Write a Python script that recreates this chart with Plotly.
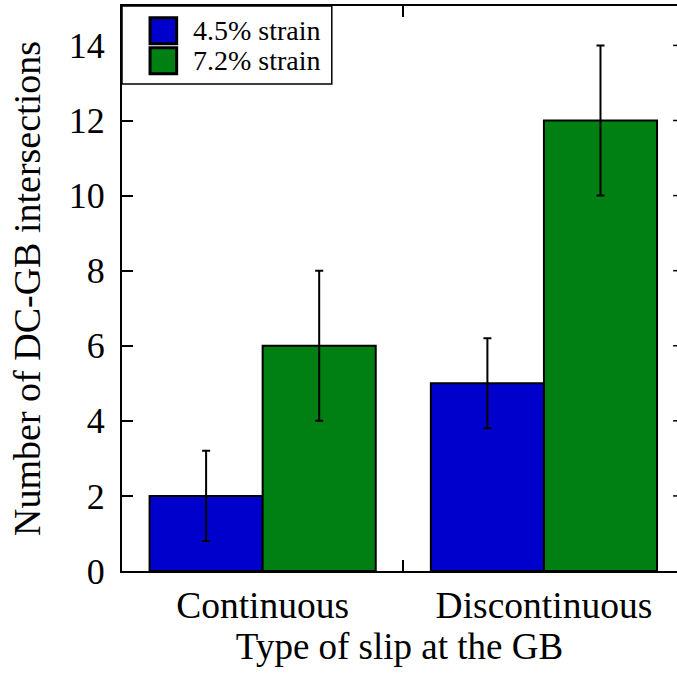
import plotly.graph_objects as go

categories = ["Continuous", "Discontinuous"]
series_names = ["4.5% strain", "7.2% strain"]
values_45 = [2, 5]
errors_45 = [1.2, 1.2]
values_72 = [6, 12]
errors_72 = [2, 2]
colors = ["#0000CC", "#007F12"]
y_ticks = [0, 2, 4, 6, 8, 10, 12, 14]

FONT = "Liberation Serif"

fig = go.Figure()
for name, vals, errs, col in [(series_names[0], values_45, errors_45, colors[0]),
                              (series_names[1], values_72, errors_72, colors[1])]:
    fig.add_trace(go.Bar(
        x=categories, y=vals, name=name,
        marker=dict(color=col, line=dict(color="black", width=2)),
        error_y=dict(type="data", array=errs, color="black", thickness=2, width=4),
    ))

# mirrored right-side y ticks (axis itself lies just beyond the visible frame)
for t in y_ticks[1:]:
    fig.add_shape(type="line", xref="paper", yref="y", x0=0.993, x1=1.0, y0=t, y1=t,
                  line=dict(color="black", width=1.5))

# legend box drawn in paper coordinates (large swatches like the original)
fig.add_shape(type="rect", xref="paper", yref="paper", x0=0, x1=0.378, y0=0.862, y1=1,
              line=dict(color="black", width=1.5), fillcolor="white", layer="above")
row_tops = [0.979, 0.926]
sw_h = 0.046
for i, (name, col) in enumerate(zip(series_names, colors)):
    y1 = row_tops[i]
    y0 = y1 - sw_h
    fig.add_shape(type="rect", xref="paper", yref="paper", x0=0.0505, x1=0.0985,
                  y0=y0, y1=y1, fillcolor=col, line=dict(color="black", width=3),
                  layer="above")
    fig.add_annotation(xref="paper", yref="paper", x=0.125, y=(y0 + y1) / 2,
                       text=name, showarrow=False, xanchor="left", yanchor="middle",
                       font=dict(family=FONT, size=28, color="black"))

fig.update_layout(
    width=677, height=673,
    margin=dict(l=122, r=0, t=6, b=102),
    plot_bgcolor="white", paper_bgcolor="white",
    barmode="group", bargap=0.196, bargroupgap=0,
    font=dict(family=FONT, size=36, color="black"),
    showlegend=False,
)
fig.update_xaxes(
    range=[-0.5, 1.473], showline=True, linecolor="black", linewidth=2,
    mirror="ticks", ticks="inside", ticklen=11, tickwidth=1.5, tickcolor="black",
    tickson="boundaries", showgrid=False,
    title=dict(text="Type of slip at the GB", standoff=5, font=dict(size=37)),
    tickfont=dict(size=37.5),
)
fig.update_yaxes(
    range=[0, 15.05], showline=True, linecolor="black", linewidth=2,
    ticks="inside", ticklen=11, tickwidth=1.5, tickcolor="black",
    tickvals=y_ticks, showgrid=False, zeroline=False, ticklabelstandoff=8,
    title=dict(text="Number of DC-GB intersections", standoff=16, font=dict(size=38)),
    tickfont=dict(size=36),
)

fig.write_html("out.html")
